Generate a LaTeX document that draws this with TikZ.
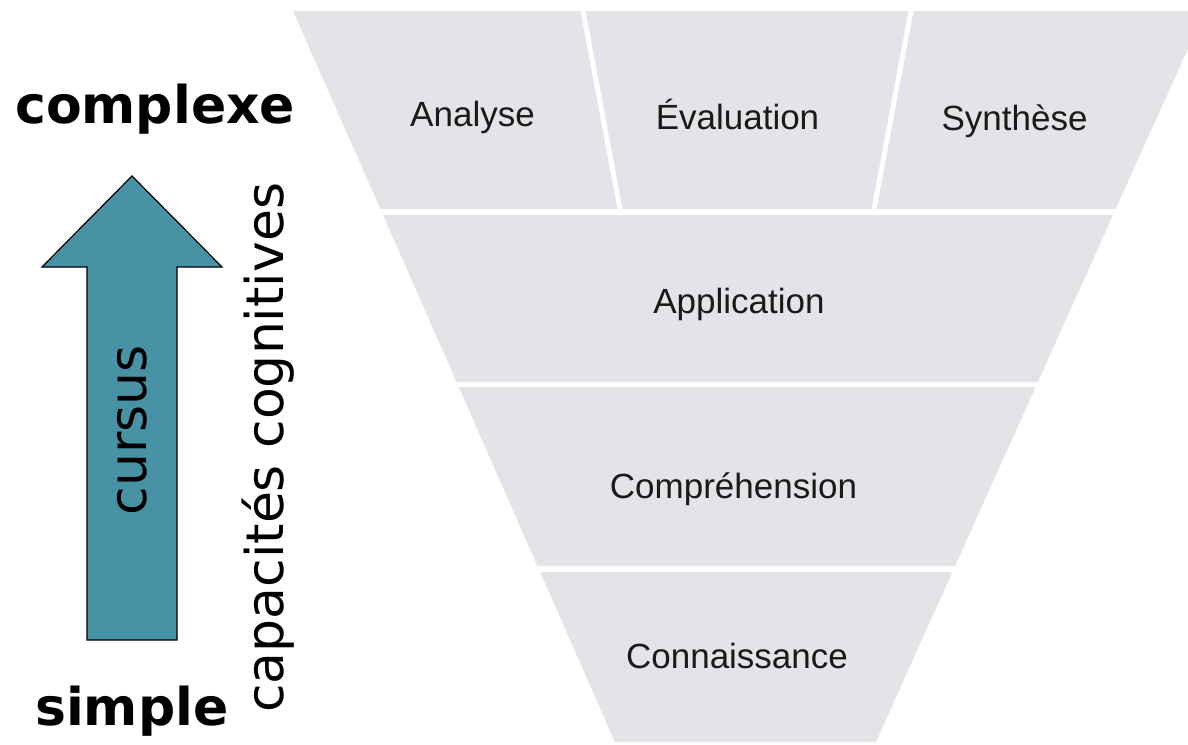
\documentclass[tikz,border=0pt]{standalone}
\usepackage{fontspec}
\setmainfont{DejaVu Sans}
\newfontfamily\cellfont{Liberation Sans}
\definecolor{funnelgray}{HTML}{E3E4E7}
\definecolor{arrowteal}{HTML}{4892A5}
\definecolor{celltext}{HTML}{1A1A1A}
\begin{document}
\begin{tikzpicture}[x=1pt,y=-1pt,
  cell/.style={fill=funnelgray,draw=none},
  celllabel/.style={anchor=base,inner sep=0pt,text=celltext,font=\cellfont\fontsize{35}{40}\selectfont},
  biglabel/.style={inner sep=0pt,font=\bfseries\fontsize{52}{60}\selectfont},
  sidelabel/.style={inner sep=0pt,rotate=90,font=\fontsize{52}{60}\selectfont}]
\useasboundingbox (0,0) rectangle (1188,744);
\begin{scope}
\clip (0,0) rectangle (1188,744);
% row 1
\fill[cell] (293,11) -- (580.5,11) -- (617.5,209) -- (380.4,209) -- cycle;
\fill[cell] (585.5,11) -- (908.5,11) -- (871.5,209) -- (622.5,209) -- cycle;
\fill[cell] (913.5,11) -- (1205,11) -- (1115.7,209) -- (876.5,209) -- cycle;
% row 2
\fill[cell] (383,215) -- (1113,215) -- (1037.9,382) -- (456.5,382) -- cycle;
% row 3
\fill[cell] (458.7,387) -- (1035.6,387) -- (955.1,566) -- (537.4,566) -- cycle;
% row 4
\fill[cell] (540.1,572) -- (952.4,572) -- (875.9,742) -- (614.9,742) -- cycle;
\end{scope}
% cell labels
\node[celllabel] (ana) at (472.5,126.5) {Analyse};
\node[celllabel] (eva) at (737.5,129) {Évaluation};
\node[celllabel] (syn) at (1014.5,130) {Synthèse};
\node[celllabel] (app) at (739,313) {Application};
\node[celllabel] (com) at (733.5,498) {Compréhension};
\node[celllabel] (con) at (737,668) {Connaissance};
% arrow
\draw[fill=arrowteal,draw=black,line width=1.2pt,line join=miter]
  (132,176) -- (222,267) -- (177,267) -- (177,640) -- (87,640) -- (87,267) -- (42,267) -- cycle;
\node[sidelabel,anchor=base] (cur) at (146,430) {cursus};
\node[sidelabel,anchor=base west] (cap) at (283,713) {capacités cognitives};
% complexity labels
\node[biglabel,anchor=base west] (cplx) at (15,123) {complexe};
\node[biglabel,anchor=base west] (smpl) at (35,725) {simple};
\end{tikzpicture}
\end{document}
